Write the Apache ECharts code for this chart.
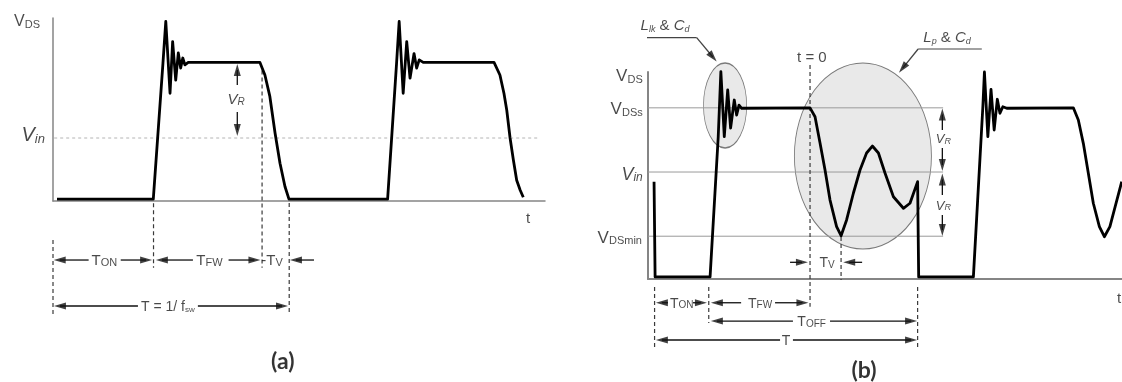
<!DOCTYPE html>
<html><head><meta charset="utf-8">
<script src="https://cdn.jsdelivr.net/npm/echarts@6/dist/echarts.min.js"></script>
<style>html,body{margin:0;padding:0;background:#fff}#c{width:1122px;height:382px}</style>
</head><body><div id="c"></div>
<script>
// ===== Panel (a): time in % of switching period T, voltage with Vin = 100 =====
const waveA = [[1.7,3],[42.5,3],[46.6,219],[47.8,285],[49.6,171],[50.7,253],[52.0,192],[53.1,235],[54.1,211],[55.0,227],[55.9,216],[57.3,220],[87.7,220],[89.8,200],[91.9,166],[94.1,108],[96.2,60],[98.3,23],[100,3],[141.8,3],[145.6,219],[146.7,285],[148.4,171],[149.9,253],[151.3,195],[153.0,234],[154.1,211],[155.2,224],[156.9,220],[186.9,220],[189.4,200],[191.1,171],[192.3,144],[193.7,100],[195.1,65],[196.5,33],[198,17],[199.3,6]];
const vinA = 100;
const vinSpanA = [0.5, 206];
const dashedA = [[0,-61.9,0,-182.5],[42.6,-3.7,42.6,-106],[88.6,207,88.6,-106],[100.1,-3.2,100.1,-179]];
const arrowsA = [[15.1,-93.7,0.3,-93.7],[28.7,-93.7,42.0,-93.7],[59.3,-93.7,43.6,-93.7],[74.4,-93.7,87.9,-93.7],[110.6,-93.7,100.4,-93.7],[36.0,-166.7,0.4,-166.7],[61.4,-166.7,99.6,-166.7],[78.1,184.1,78.1,217.5],[78.1,141.3,78.1,103.2]];
const textA = [
  ['{vA|V}{dsA|DS}', -5.5, 285.7, 'right'],
  ['{ivA|V}{inA|in}', -3.4, 106, 'right'],
  ['{vr|V}{vrs|R}', 77.6, 162, 'center'],
  ['{t|t}', 201.3, -27, 'center'],
  ['{T|T}{Ts|ON}', 21.8, -93.7, 'center'],
  ['{T|T}{Ts|FW}', 66.3, -93.7, 'center'],
  ['{T|-T}{Ts|V}', 92.8, -93.7, 'center'],
  ['{Tf|T = 1/ f}{sw|sw}', 48.7, -166.7, 'center'],
  ['{cap|(a)}', 97.4, -255.6, 'center']
];

// ===== Panel (b): time in % of T (t=0 at start of TON), voltage with Vin = 100 =====
const waveB = [[-0.2,91],[0.2,2],[21.1,2],[24.2,133],[25.2,193.8],[26.5,133],[27.8,176.7],[28.9,141.1],[30.3,167.3],[31.2,153.3],[32.1,162.6],[33.1,159.6],[59.1,160],[61.0,151.7],[62.9,127.1],[64.8,101.9],[66.7,73.8],[69.2,48.9],[70.9,40.5],[73.0,55.2],[75.6,80.4],[78.1,101.9],[80.6,117.8],[82.8,124.3],[85.1,117.8],[87.6,99.1],[90.8,76.9],[94.6,66.1],[97.1,70.8],[100.0,91],[100.4,2],[121.2,2],[124.8,161],[125.4,193.5],[126.7,133],[127.9,177.3],[129.1,139.3],[130.3,168],[131.3,154.9],[132.4,161],[133.9,159.6],[159.2,160],[161.1,148.6],[163.0,126.8],[164.9,98.8],[166.8,70.8],[169.1,48.9],[171.0,39.5],[173.1,48.9],[175.1,67.6],[177.6,91]];
const levelsB = [160, 100, 40];      // VDSs, Vin, VDSmin
const levelSpanB = [-2.5, 109.7];
const ellipsesB = [[26.8,162.2,16.4,79.5],[79.2,115,52.1,173.9]]; // centre x, centre y, width, height (data units)
const dashedB = [[0,-7.5,0,-63.6],[20.6,-7.5,20.6,-41.1],[59.1,200,59.1,-25.9],[70.9,39.3,70.9,-0.9],[100,-7.5,100,-63.6]];
const arrowsB = [[51.5,15.6,58.3,15.6],[78.9,15.6,71.7,15.6],
  [5.1,-22.2,0.5,-22.2],[14.6,-22.2,19.9,-22.2],[32.9,-22.2,21.4,-22.2],[45.8,-22.2,58.5,-22.2],
  [52.6,-39.3,21.4,-39.3],[66.7,-39.3,99.8,-39.3],
  [47.7,-57,0.5,-57],[52.6,-57,99.8,-57],
  [109.4,139.3,109.4,159.4],[109.4,122.5,109.4,101],[109.4,78.5,109.4,98.6],[109.4,59.8,109.4,40.2]];
const leaderArrowsB = [[16.0,225.6,23.6,203.2],[100.2,215,92.9,192.8]];
const leaderLinesB = [[[-7.8,225.6],[16.0,225.6]],[[124.4,215],[100.2,215]]];
const textB = [
  ['{vB|V}{dsB|DS}', -4.5, 190.7, 'right'],
  ['{vB|V}{dsB|DSs}', -4.5, 159.6, 'right'],
  ['{ivB|V}{inB|in}', -4.5, 99, 'right'],
  ['{vB|V}{dsB|DSmin}', -4.8, 39.5, 'right'],
  ['{L|L}{Ls|lk}{amp| & }{L|C}{Ls|d}', 4.0, 237.4, 'center'],
  ['{L|L}{Ls|p}{amp| & }{L|C}{Ls|d}', 111.2, 226.2, 'center'],
  ['{t|t = 0}', 59.8, 207.5, 'center'],
  ['{vrb|V}{vrbs|R}', 109.8, 131.8, 'center'],
  ['{vrb|V}{vrbs|R}', 109.8, 69.2, 'center'],
  ['{TB|T}{TBs|V}', 65.6, 15.6, 'center'],
  ['{TB|T}{TBs|ON}', 10.3, -22.2, 'center'],
  ['{TB|T}{TBs|FW}', 40.1, -22.2, 'center'],
  ['{TB|T}{TBs|OFF}', 59.7, -39.3, 'center'],
  ['{TB|T}', 50, -57, 'center'],
  ['{t|t}', 176.6, -17.8, 'center'],
  ['{cap|(b)}', 79.6, -86, 'center']
];

// ===== layout / styles =====
const P = [
  {grid:{left:53, top:18, width:492, height:183}, x:[0,208.5], y:[0,290.5], axis:{color:'#858585', width:1.5}},
  {grid:{left:648, top:72, width:474, height:207}, x:[-2.5,177.7], y:[0,193.5], axis:{color:'#858585', width:2}}
];
const HEAD = [7, 12];
const F = '"Liberation Sans", Arial, sans-serif';
function st(size, extra){ return Object.assign({fontSize:size, fontFamily:F, color:'#1c1c1c', lineHeight:Math.round(size*1.15), verticalAlign:'bottom'}, extra||{}); }
const rich = {
  vA: st(16), dsA: st(11),
  ivA: st(20,{fontStyle:'italic'}), inA: st(13,{fontStyle:'italic'}),
  vr: st(15,{fontStyle:'italic'}), vrs: st(10,{fontStyle:'italic', lineHeight:8}),
  T: st(15), Ts: st(11),
  Tf: st(14), sw: st(8,{lineHeight:6}),
  t: st(15),
  cap: {fontSize:23, fontFamily:'Lato, "Open Sans", sans-serif', fontWeight:'bold', color:'#000'},
  vB: st(17), dsB: st(11),
  ivB: st(18,{fontStyle:'italic'}), inB: st(12,{fontStyle:'italic'}),
  L: st(15,{fontStyle:'italic'}), Ls: st(9,{fontStyle:'italic'}), amp: st(15),
  vrb: st(13,{fontStyle:'italic'}), vrbs: st(9,{fontStyle:'italic', lineHeight:7}),
  TB: st(14), TBs: st(10)
};
function scale(i){ const p=P[i]; return [p.grid.width/(p.x[1]-p.x[0]), p.grid.height/(p.y[1]-p.y[0])]; }

const series = [];
function lineS(gi, pts, style, z){
  series.push({type:'line', xAxisIndex:gi, yAxisIndex:gi, data:pts, symbol:'none', showSymbol:false, clip:false, silent:true, animation:false, lineStyle:style, z:z});
}
function arrows(gi, list, color){
  const [kx, ky] = scale(gi);
  const heads = [];
  list.forEach(([x1,y1,x2,y2]) => {
    const dx=(x2-x1)*kx, dy=-(y2-y1)*ky;
    const len=Math.hypot(dx,dy), ux=dx/len, uy=dy/len;
    const half=HEAD[1]/2;
    const cx=x2-ux*half/kx, cy=y2+uy*half/ky;
    lineS(gi, [[x1,y1],[cx,cy]], {color:color, width:1.3}, 4);
    heads.push({value:[cx,cy], symbolRotate:Math.atan2(-ux,-uy)*180/Math.PI});
  });
  series.push({type:'scatter', xAxisIndex:gi, yAxisIndex:gi, symbol:'triangle', symbolSize:HEAD, data:heads, itemStyle:{color:'#111'}, clip:false, silent:true, z:5, animation:false});
}
function texts(gi, list){
  series.push({type:'scatter', xAxisIndex:gi, yAxisIndex:gi, symbolSize:0, clip:false, silent:true, z:6, animation:false,
    data: list.map(([s,x,y,a]) => ({value:[x,y], name:s, label:{align:a}})),
    label:{show:true, position:'inside', formatter:p=>p.name, rich:rich}});
}
const dashStyle = {color:'#3a3a3a', width:1.2, type:[4,3]};

// ---- panel (a)
lineS(0, [[vinSpanA[0],vinA],[vinSpanA[1],vinA]], {color:'#b4b4b4', width:1, type:[3,3]}, 2);
dashedA.forEach(d => lineS(0, [[d[0],d[1]],[d[2],d[3]]], dashStyle, 3));
lineS(0, waveA, {color:'#000', width:2.8, join:'round'}, 5);
arrows(0, arrowsA, '#111');
texts(0, textA);

// ---- panel (b)
const [kxB, kyB] = scale(1);
series.push({type:'scatter', xAxisIndex:1, yAxisIndex:1, symbol:'circle', clip:false, silent:true, z:1, animation:false,
  data: ellipsesB.map(e => ({value:[e[0],e[1]], symbolSize:[e[2]*kxB, e[3]*kyB]})),
  itemStyle:{color:'#e3e3e3', borderColor:'#5a5a5a', borderWidth:1}});
levelsB.forEach(v => lineS(1, [[levelSpanB[0],v],[levelSpanB[1],v]], {color:'#9a9a9a', width:1}, 2));
dashedB.forEach(d => lineS(1, [[d[0],d[1]],[d[2],d[3]]], dashStyle, 3));
leaderLinesB.forEach(l => lineS(1, l, {color:'#444', width:1.2}, 4));
lineS(1, waveB, {color:'#000', width:2.8, join:'round'}, 5);
arrows(1, arrowsB, '#111');
arrows(1, leaderArrowsB, '#444');
texts(1, textB);

function axisCfg(i, which){
  const p=P[i];
  return {gridIndex:i, type:'value', min:p[which][0], max:p[which][1],
    axisLine:{show:true, onZero:false, lineStyle:p.axis}, axisTick:{show:false}, axisLabel:{show:false}, splitLine:{show:false}};
}
const chart = echarts.init(document.getElementById('c'), null, {renderer:'canvas'});
chart.setOption({
  animation:false,
  backgroundColor:'#fff',
  grid: P.map(p => p.grid),
  xAxis: [axisCfg(0,'x'), axisCfg(1,'x')],
  yAxis: [axisCfg(0,'y'), axisCfg(1,'y')],
  series: series
});
</script></body></html>
